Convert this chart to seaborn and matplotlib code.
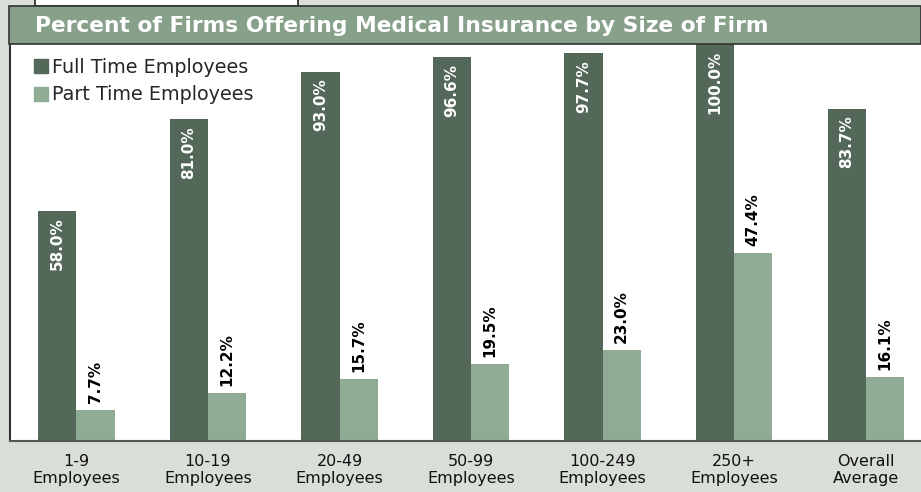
import matplotlib
matplotlib.use("Agg")
import matplotlib.pyplot as plt
import seaborn as sns
import pandas as pd
from matplotlib.patches import Rectangle
from matplotlib.lines import Line2D

categories = ["1-9\nEmployees", "10-19\nEmployees", "20-49\nEmployees", "50-99\nEmployees",
              "100-249\nEmployees", "250+\nEmployees", "Overall\nAverage"]
full_time = [58.0, 81.0, 93.0, 96.6, 97.7, 100.0, 83.7]
part_time = [7.7, 12.2, 15.7, 19.5, 23.0, 47.4, 16.1]
series_names = ["Full Time Employees", "Part Time Employees"]
title = "Percent of Firms Offering Medical Insurance by Size of Firm"

DARK = "#536858"
LIGHT = "#8fab93"
BAR_BG = "#87a08a"
BG = "#d9ded8"

df = pd.DataFrame({
    "cat": categories * 2,
    "pct": full_time + part_time,
    "type": [series_names[0]] * len(categories) + [series_names[1]] * len(categories),
})

sns.set_theme(style="white")
plt.rcParams["font.family"] = ["DejaVu Sans"]

W, H = 921, 492
fig = plt.figure(figsize=(W / 100, H / 100), dpi=100, facecolor=BG)
ax = fig.add_axes([10 / W, (H - 441) / H, (W - 10) / W, (441 - 44) / H])
ax.set_facecolor("white")

sns.barplot(data=df, x="cat", y="pct", hue="type", palette=[DARK, LIGHT],
            width=0.58, saturation=1, linewidth=0, ax=ax, legend=False)

ax.set_ylim(0, 100)
ax.set_xlim(-0.505, 6.42)
ax.set_xlabel("")
ax.set_ylabel("")
ax.set_yticks([])
ax.tick_params(axis="x", length=0, pad=9, labelsize=11.5, colors="#111111")
for lbl in ax.get_xticklabels():
    lbl.set_linespacing(1.2)
for s in ["top", "right"]:
    ax.spines[s].set_visible(False)
ax.spines["left"].set_color("#333333")
ax.spines["left"].set_linewidth(1.5)
ax.spines["bottom"].set_color("#555555")
ax.spines["bottom"].set_linewidth(1.5)

# value labels
for i, (bars, vals) in enumerate(zip(ax.containers, [full_time, part_time])):
    for b, v in zip(bars, vals):
        x = b.get_x() + b.get_width() / 2
        if i == 0:
            ax.annotate(f"{v:.1f}%", (x, v), xytext=(0, -5), textcoords="offset points",
                        rotation=90, ha="center", va="top", color="white",
                        fontsize=11, fontweight="bold")
        else:
            ax.annotate(f"{v:.1f}%", (x, v), xytext=(0, 5), textcoords="offset points",
                        rotation=90, ha="center", va="bottom", color="black",
                        fontsize=11, fontweight="bold")

# legend
handles = [Line2D([0], [0], marker="s", linestyle="none", markersize=9.5, color=c)
           for c in [DARK, LIGHT]]
ax.legend(handles, series_names, loc="upper left", bbox_to_anchor=(0.017, 0.985),
          frameon=False, fontsize=13.8, handletextpad=0.12, labelspacing=0.45,
          handlelength=0.85, borderaxespad=0)

# title bar
fig.patches.append(Rectangle((9 / W, (H - 44) / H), (W - 9) / W, 38 / H,
                             transform=fig.transFigure, facecolor=BAR_BG,
                             edgecolor="#333333", linewidth=1.2, zorder=5))
fig.text(35 / W, (H - 26) / H, title, color="white", fontsize=15.7, fontweight="bold",
         ha="left", va="center", zorder=6)
# cut-off box at top
fig.patches.append(Rectangle((35 / W, (H - 6) / H), (298 - 35) / W, 10 / H,
                             transform=fig.transFigure, facecolor="white",
                             edgecolor="#222222", linewidth=1.2, zorder=4))

fig.savefig("out.png", dpi=100, facecolor=BG)
